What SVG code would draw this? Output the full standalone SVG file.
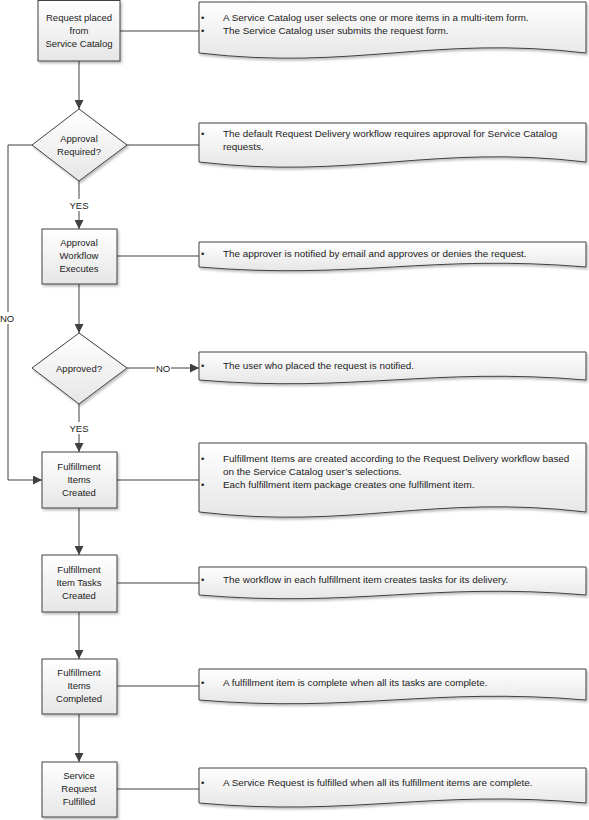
<svg xmlns="http://www.w3.org/2000/svg" width="589" height="820" viewBox="0 0 589 820">
<style>
text{font-family:"Liberation Sans",Arial,sans-serif;font-size:9.5px;fill:#222}
.c{text-anchor:middle}
.t{font-size:9.9px}
.shape{fill:url(#g);stroke:#404040;stroke-width:1;filter:url(#sh)}
.ln{fill:none;stroke:#404040;stroke-width:1}
.ar{marker-end:url(#ah)}
.lbl{fill:#fff;stroke:none}
</style>
<defs>
<linearGradient id="g" x1="0" y1="0" x2="0" y2="1">
<stop offset="0" stop-color="#ffffff"/>
<stop offset="1" stop-color="#e6e6e6"/>
</linearGradient>
<filter id="sh" x="-10%" y="-10%" width="130%" height="140%">
<feDropShadow dx="1.5" dy="2" stdDeviation="1" flood-color="#000" flood-opacity="0.25"/>
</filter>
<marker id="ah" viewBox="0 0 10 10" refX="10" refY="5" markerWidth="9" markerHeight="9" markerUnits="userSpaceOnUse" orient="auto">
<path d="M0,0 L10,5 L0,10 z" fill="#404040"/>
</marker>
</defs>

<g id="connectors">
<path class="ln ar" d="M79,61 V109"/>
<path class="ln ar" d="M79,181 V229"/>
<path class="ln ar" d="M79,284 V333"/>
<path class="ln ar" d="M79,404 V452"/>
<path class="ln ar" d="M79,508 V555"/>
<path class="ln ar" d="M79,612 V659"/>
<path class="ln ar" d="M79,714 V762"/>
<path class="ln ar" d="M32,145 H8 V480 H42"/>
<path class="ln ar" d="M127,368 H199"/>
<path class="ln" d="M120,31 H199"/>
<path class="ln" d="M127,145 H199"/>
<path class="ln" d="M116,256 H199"/>
<path class="ln" d="M116,480 H199"/>
<path class="ln" d="M116,583 H199"/>
<path class="ln" d="M116,686 H199"/>
<path class="ln" d="M116,789 H199"/>
<rect class="lbl" x="69" y="199" width="20" height="12"/>
<text class="c" x="79" y="208.5">YES</text>
<rect class="lbl" x="69" y="422" width="20" height="12"/>
<text class="c" x="79" y="431.5">YES</text>
<rect class="lbl" x="0" y="312" width="15" height="12"/>
<text class="c" x="7" y="321.5">NO</text>
<rect class="lbl" x="155" y="362" width="16" height="12"/>
<text class="c" x="163" y="371.5">NO</text>
</g>

<g id="n1">
<rect class="shape" x="38" y="0.5" width="82" height="60.5"/>
<text class="c" x="79" y="21">Request placed</text>
<text class="c" x="79" y="34">from</text>
<text class="c" x="79" y="47">Service Catalog</text>
</g>
<g id="d1">
<path class="shape" d="M79,109 L127,145 L79,181 L32,145 Z"/>
<text class="c" x="79" y="142">Approval</text>
<text class="c" x="79" y="155">Required?</text>
</g>
<g id="n2">
<rect class="shape" x="42" y="229" width="75" height="55"/>
<text class="c" x="79" y="246">Approval</text>
<text class="c" x="79" y="259">Workflow</text>
<text class="c" x="79" y="272">Executes</text>
</g>
<g id="d2">
<path class="shape" d="M79,333 L127,368 L79,404 L32,368 Z"/>
<text class="c" x="79" y="371.5">Approved?</text>
</g>
<g id="n3">
<rect class="shape" x="42" y="452" width="75" height="56"/>
<text class="c" x="79" y="469.5">Fulfillment</text>
<text class="c" x="79" y="482.5">Items</text>
<text class="c" x="79" y="495.5">Created</text>
</g>
<g id="n4">
<rect class="shape" x="42" y="555" width="75" height="57"/>
<text class="c" x="79" y="573">Fulfillment</text>
<text class="c" x="79" y="586">Item Tasks</text>
<text class="c" x="79" y="599">Created</text>
</g>
<g id="n5">
<rect class="shape" x="42" y="659" width="75" height="55"/>
<text class="c" x="79" y="676">Fulfillment</text>
<text class="c" x="79" y="689">Items</text>
<text class="c" x="79" y="702">Completed</text>
</g>
<g id="n6">
<rect class="shape" x="42" y="762" width="75" height="55"/>
<text class="c" x="79" y="779">Service</text>
<text class="c" x="79" y="792">Request</text>
<text class="c" x="79" y="805">Fulfilled</text>
</g>

<g id="note1">
<path class="shape" d="M199,2 H586 V53 C431,35 354,71 199,53 Z"/>
<text x="201" y="20.5">•</text><text class="t" x="223" y="20.5">A Service Catalog user selects one or more items in a multi-item form.</text>
<text x="201" y="34">•</text><text class="t" x="223" y="34">The Service Catalog user submits the request form.</text>
</g>
<g id="note2">
<path class="shape" d="M199,123 H586 V162 C431,144 354,180 199,162 Z"/>
<text x="201" y="136.5">•</text><text class="t" x="223" y="136.5">The default Request Delivery workflow requires approval for Service Catalog</text>
<text class="t" x="223" y="150">requests.</text>
</g>
<g id="note3">
<path class="shape" d="M199,242 H586 V267 C431,254 354,280 199,267 Z"/>
<text x="201" y="256.5">•</text><text class="t" x="223" y="256.5">The approver is notified by email and approves or denies the request.</text>
</g>
<g id="note4">
<path class="shape" d="M199,352 H586 V380 C431,367 354,393 199,380 Z"/>
<text x="201" y="368.5">•</text><text class="t" x="223" y="368.5">The user who placed the request is notified.</text>
</g>
<g id="note5">
<path class="shape" d="M199,443 H586 V512 C431,494 354,530 199,512 Z"/>
<text x="201" y="461.5">•</text><text class="t" x="223" y="461.5">Fulfillment Items are created according to the Request Delivery workflow based</text>
<text class="t" x="223" y="475">on the Service Catalog user’s selections.</text>
<text x="201" y="488">•</text><text class="t" x="223" y="488">Each fulfillment item package creates one fulfillment item.</text>
</g>
<g id="note6">
<path class="shape" d="M199,567 H586 V595 C431,582 354,608 199,595 Z"/>
<text x="201" y="582.5">•</text><text class="t" x="223" y="582.5">The workflow in each fulfillment item creates tasks for its delivery.</text>
</g>
<g id="note7">
<path class="shape" d="M199,669 H586 V700 C431,687 354,713 199,700 Z"/>
<text x="201" y="685.5">•</text><text class="t" x="223" y="685.5">A fulfillment item is complete when all its tasks are complete.</text>
</g>
<g id="note8">
<path class="shape" d="M199,768 H586 V803 C431,789 354,817 199,803 Z"/>
<text x="201" y="786">•</text><text class="t" x="223" y="786">A Service Request is fulfilled when all its fulfillment items are complete.</text>
</g>
</svg>
